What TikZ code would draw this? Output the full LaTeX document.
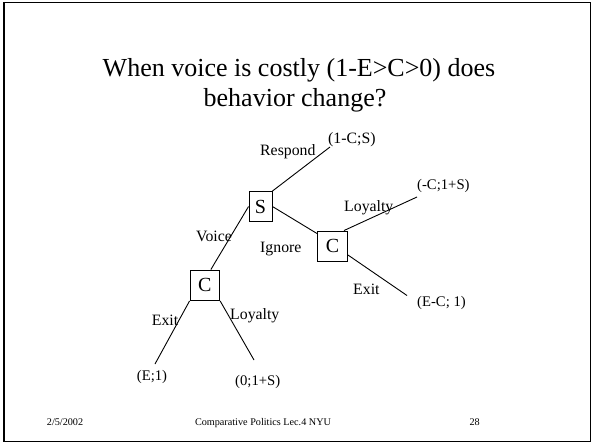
\documentclass[tikz,border=0pt]{standalone}
\usepackage{fontspec}
\setmainfont{Liberation Serif}
\tikzset{
  lbl/.style={inner sep=0pt, anchor=base west, font=\fontsize{15.8}{18}\selectfont},
  pay/.style={inner sep=0pt, anchor=base west, font=\fontsize{14.7}{17}\selectfont},
  dnode/.style={draw, line width=0.9pt, inner sep=0pt, font=\fontsize{20}{24}\selectfont},
  branch/.style={line width=0.9pt},
  foot/.style={inner sep=0pt, font=\fontsize{10.2}{12}\selectfont},
  ttl/.style={inner sep=0pt, anchor=base, font=\fontsize{26}{30}\selectfont},
}
\begin{document}
\begin{tikzpicture}[x=1pt,y=-1pt]
\useasboundingbox (0,0) rectangle (592,445);
\draw[line width=1.8pt] (4,2.5) rectangle (590.5,441.5);
% title
\node[ttl] (t1) at (299,76.5) {When voice is costly (1-E>C>0) does};
\node[ttl] (t2) at (295,106.5) {behavior change?};
% decision nodes
\node[dnode, minimum width=23pt, minimum height=30pt] (S) at (260.5,206.5) {S};
\node[dnode, minimum width=30pt, minimum height=30pt] (Cr) at (332.5,246) {C};
\node[dnode, minimum width=29.7pt, minimum height=30.5pt] (Cl) at (204.85,285.25) {C};
% free ends
\coordinate (e1) at (330,147);
\coordinate (e2) at (417,197);
\coordinate (e3) at (407,295.5);
\coordinate (e4) at (155,364);
\coordinate (e5) at (254,360);
% branches
\draw[branch] (S.north east) -- (e1);
\draw[branch] (S.east) -- ([yshift=-3pt]Cr.north west);
\draw[branch] (S.west) -- ([xshift=6pt]Cl.north);
\draw[branch] ([xshift=-4pt]Cr.north east) -- (e2);
\draw[branch] ([yshift=-9pt]Cr.east) -- (e3);
\draw[branch] (Cl.south west) -- (e4);
\draw[branch] (Cl.south east) -- (e5);
% labels
\node[lbl] (respond) at (260,155) {Respond};
\node[lbl] (pay1) at (328,143) {(1-C;S)};
\node[lbl] (voice) at (196,241.5) {Voice};
\node[lbl] (ignore) at (260,252.5) {Ignore};
\node[lbl] (loyR) at (344,211.5) {Loyalty};
\node[lbl] (exitR) at (353,294.5) {Exit};
\node[lbl] (exitL) at (151.7,325) {Exit};
\node[lbl] (loyL) at (230,319.5) {Loyalty};
\node[pay] (pay2) at (417,189.4) {(-C;1+S)};
\node[pay] (pay3) at (417,306) {(E-C; 1)};
\node[pay] (pay4) at (136.7,380.5) {(E;1)};
\node[pay] (pay5) at (235,385.5) {(0;1+S)};
% footer
\node[foot, anchor=base west] (date) at (46.7,425) {2/5/2002};
\node[foot, anchor=base] (course) at (263,425) {Comparative Politics Lec.4 NYU};
\node[foot, anchor=base east] (page) at (480,425) {28};
\end{tikzpicture}
\end{document}
